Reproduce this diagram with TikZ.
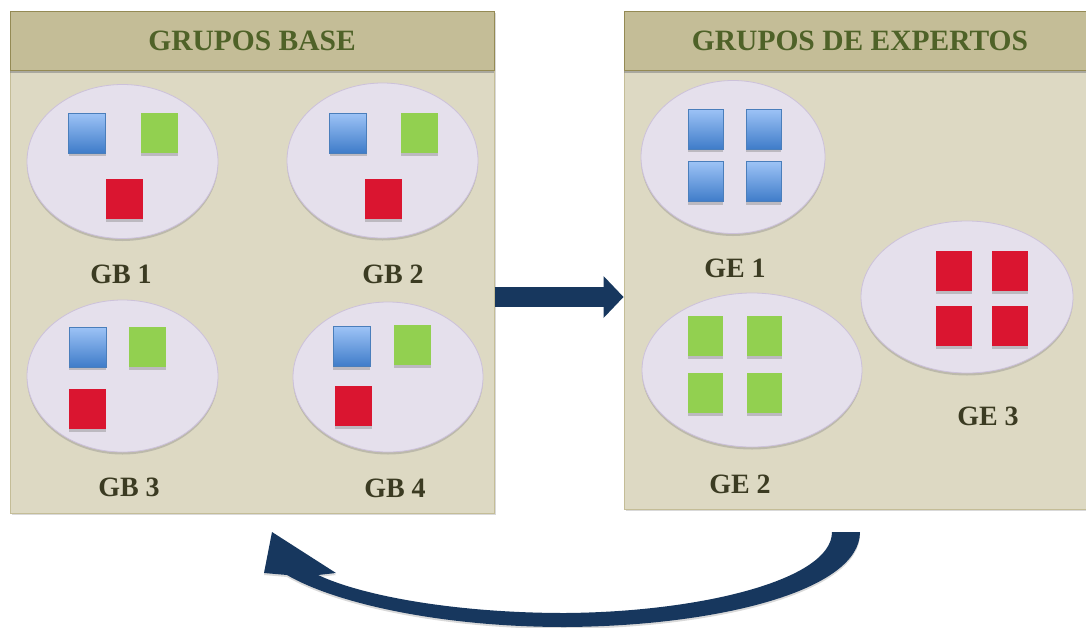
\documentclass[tikz,border=0pt]{standalone}
\usepackage{fontspec}
\setmainfont{Liberation Serif}
\usepackage{tikz}
\usetikzlibrary{shadows,arrows.meta,shapes,positioning,calc}

\definecolor{navy}{HTML}{17375E}
\definecolor{headfill}{HTML}{C4BD97}
\definecolor{headline}{HTML}{948A54}
\definecolor{bodyfill}{HTML}{DDD9C3}
\definecolor{bodyline}{HTML}{C4BD97}
\definecolor{blobfill}{HTML}{E5E0EC}
\definecolor{blobline}{HTML}{CCC1DA}
\definecolor{btop}{HTML}{9DC3F6}
\definecolor{bbot}{HTML}{3F7CC9}
\definecolor{bline}{HTML}{4A7EBB}
\definecolor{gfill}{HTML}{92D050}
\definecolor{rfill}{HTML}{DA1530}
\definecolor{ttlgreen}{HTML}{4F6228}
\definecolor{labtext}{HTML}{3B3B22}

\begin{document}
\begin{tikzpicture}[
            x=1pt, y=-1pt,
            body/.style={rectangle, draw=bodyline, fill=bodyfill, line width=1pt, inner sep=0pt,
                drop shadow={shadow xshift=1.5pt, shadow yshift=-2pt, opacity=.3}},
            head/.style={rectangle, draw=headline, fill=headfill, line width=1pt, inner sep=0pt,
                minimum height=59pt, text=ttlgreen, font=\bfseries\fontsize{29.5}{32}\selectfont,
                drop shadow={shadow xshift=0pt, shadow yshift=-3pt, opacity=.55}},
            blob/.style={ellipse, draw=blobline, fill=blobfill, line width=.8pt, inner sep=0pt,
                drop shadow={shadow xshift=0pt, shadow yshift=-2.5pt, opacity=.35}},
            sq/.style={rectangle, inner sep=0pt, minimum width=37pt, minimum height=40pt,
                drop shadow={shadow xshift=0pt, shadow yshift=-3pt, opacity=.4}},
            bsq/.style={sq, draw=bline, line width=.8pt, top color=btop, bottom color=bbot},
            gsq/.style={sq, fill=gfill},
            rsq/.style={sq, fill=rfill},
            lab/.style={inner sep=0pt, text=labtext, font=\bfseries\fontsize{28}{30}\selectfont},
            flow/.style={draw=navy, line width=20pt,
                -{Triangle[width=42pt, length=20pt, line width=0pt]}}
        ]
            \useasboundingbox (0,0) rectangle (1086,627);

% --- panels ---
            \node[body, minimum width=484pt, minimum height=502pt] (lbody) at (252,262) {};
            \node[head, minimum width=484pt] (lhead) at (252,40.5) {GRUPOS BASE};
            \node[body, minimum width=470pt, minimum height=498pt] (rbody) at (859,260) {};
            \node[head, minimum width=470pt] (rhead) at (859,40.5) {};
            \node[text=ttlgreen, font=\bfseries\fontsize{29.5}{32}\selectfont] (rtitle) at (860,40.5) {GRUPOS DE EXPERTOS};

% --- grupos base ---
            \node[blob, minimum width=191pt, minimum height=154pt] (gb1) at (122.5,161.5) {};
            \node[blob, minimum width=191pt, minimum height=155pt] (gb2) at (382.5,160.5) {};
            \node[blob, minimum width=191pt, minimum height=152pt] (gb3) at (122.5,376) {};
            \node[blob, minimum width=190pt, minimum height=150pt] (gb4) at (388,377) {};

            \node[bsq] (b1) at (87,133) {};
            \node[gsq] (g1) at (159,133) {};
            \node[rsq] (r1) at (124.5,199) {};

            \node[bsq] (b2) at (348,133) {};
            \node[gsq] (g2) at (419.5,133) {};
            \node[rsq] (r2) at (383.5,199) {};

            \node[bsq] (b3) at (87.5,347) {};
            \node[gsq] (g3) at (147.5,347) {};
            \node[rsq] (r3) at (87.5,409) {};

            \node[bsq] (b4) at (351.5,346.5) {};
            \node[gsq] (g4) at (412,344.5) {};
            \node[rsq] (r4) at (353.5,405.5) {};

            \node[lab] (lgb1) at (121,274) {GB 1};
            \node[lab] (lgb2) at (393,274) {GB 2};
            \node[lab] (lgb3) at (129,487) {GB 3};
            \node[lab] (lgb4) at (395,488) {GB 4};

% --- grupos de expertos ---
            \node[blob, minimum width=184pt, minimum height=153pt] (ge1) at (733,157) {};
            \node[blob, minimum width=220pt, minimum height=154pt] (ge2) at (752,370) {};
            \node[blob, minimum width=212pt, minimum height=152pt] (ge3) at (967,297) {};

            \foreach \i/\px/\py in {1/705.5/129, 2/763.5/129, 3/705.5/181.5, 4/763.5/181.5}
                \node[bsq, minimum width=35pt] (eb\i) at (\px,\py) {};
            \foreach \i/\px/\py in {1/705.5/335.5, 2/764/335.5, 3/705.5/393, 4/764/393}
                \node[gsq, minimum width=35pt] (eg\i) at (\px,\py) {};
            \foreach \i/\px/\py in {1/954/271, 2/1010/271, 3/954/326, 4/1010/326}
                \node[rsq, minimum width=36pt] (er\i) at (\px,\py) {};

            \node[lab] (lge1) at (735,268) {GE 1};
            \node[lab] (lge2) at (740,484) {GE 2};
            \node[lab] (lge3) at (988,416) {GE 3};

% --- arrows ---
            \coordinate (midy) at (560,297);
            \draw[flow] (lbody.east |- midy) -- (rbody.west |- midy);

            \coordinate (ret) at (846,532);
            \coordinate (tip) at (272,532);
            \fill[navy, drop shadow={shadow xshift=0pt, shadow yshift=-2pt, opacity=.3}]
                (860,532) .. controls (860,590) and (720,626) .. (565,627)
                .. controls (440,627) and (335,603) .. (287,575)
                -- (264,573) -- (tip) -- (336,573) -- (318,575)
                .. controls (365,597) and (460,613) .. (565,613)
                .. controls (700,612) and (832,580) .. (832,532) -- cycle;

        \end{tikzpicture}
\end{document}
